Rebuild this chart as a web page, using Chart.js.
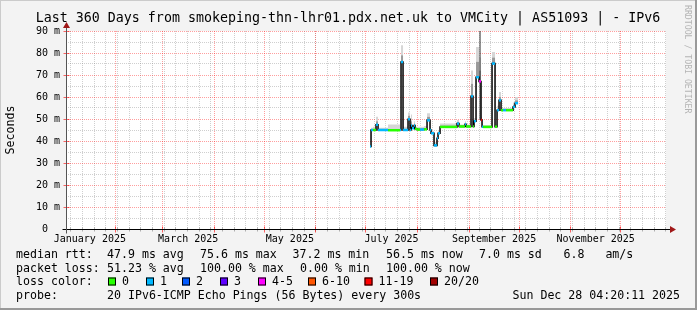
<!DOCTYPE html>
<html>
<head>
<meta charset="utf-8">
<script src="https://cdn.jsdelivr.net/npm/chart.js@4.4.1/dist/chart.umd.min.js"></script>
<style>
  html, body { margin: 0; padding: 0; background: #f3f3f3; }
  canvas { display: block; }
</style>
</head>
<body>
<canvas id="chart" width="697" height="310"></canvas>
<script>
// time axis in days since 1 Jan 2025; the graph covers 360 days up to Dec 28 04:20
const startDay = 1.18;
const spanDays = 360;

const monthStartDays = [31, 59, 90, 120, 151, 181, 212, 243, 273, 304, 334];
const monthLabels = ['January 2025', 'March 2025', 'May 2025', 'July 2025', 'September 2025', 'November 2025'];
const monthLabelDays = [15.5, 74.5, 135.5, 196.5, 258, 319];
const firstSunday = 4;

const yTicks = [0, 10, 20, 30, 40, 50, 60, 70, 80, 90];

// median rtt samples (ms), each one holds until the next sample starts
const sampleDays = [
  183.6, 184.2, 185.4, 187.2, 188.4, 194.4, 201.6, 202.2, 203.4, 206.4,
  207.6, 208.2, 208.8, 210.0, 210.6, 211.8, 213.6, 216.0, 217.8, 219.6,
  220.2, 222.0, 223.8, 224.4, 225.6, 235.8, 237.0, 240.6, 241.2, 244.2,
  245.4, 246.0, 247.2, 249.0, 250.2, 250.8, 251.4, 256.8, 258.6, 259.8,
  261.0, 262.2, 263.4, 265.2, 269.4, 270.6
];
const lastSampleEnd = 272.4;
const medianMs = [
  37.5, 45.0, 45.0, 47.4, 45.0, 44.9, 45.0, 75.9, 45.0, 49.9,
  45.0, 47.0, 45.8, 47.1, 45.5, 45.2, 45.2, 45.3, 49.4, 45.0,
  43.5, 38.0, 41.2, 43.5, 46.4, 47.9, 46.6, 47.6, 46.6, 60.3,
  46.6, 49.0, 69.0, 67.1, 49.6, 46.5, 46.4, 75.2, 46.5, 54.0,
  58.5, 54.0, 54.0, 54.0, 55.5, 57.2
];
// index into lossColors
const lossBucket = [
  1, 1, 0, 1, 1, 0, 1, 1, 1, 1,
  1, 1, 1, 1, 0, 0, 1, 0, 1, 1,
  1, 1, 1, 1, 0, 1, 0, 1, 0, 1,
  0, 1, 1, 4, 6, 1, 0, 1, 0, 1,
  1, 0, 1, 0, 1, 1
];
const smokeMidMs = [
  37.5, 45.3, 45.3, 49.0, 45.3, 45.5, 45.3, 79.0, 45.5, 51.5,
  45.5, 49.0, 46.0, 48.0, 45.8, 45.5, 45.5, 45.6, 51.0, 45.3,
  43.8, 38.5, 41.5, 43.8, 47.0, 48.5, 46.9, 48.3, 46.9, 66.0,
  46.9, 49.5, 76.0, 72.0, 50.0, 46.8, 46.7, 78.0, 46.8, 54.5,
  60.0, 54.3, 54.3, 54.3, 56.5, 58.5
];
const smokeHiMs = [
  38.0, 46.0, 46.5, 51.0, 46.0, 47.5, 46.0, 83.5, 46.5, 53.0,
  46.0, 52.0, 47.0, 49.0, 46.5, 46.5, 46.5, 46.8, 52.6, 46.0,
  44.5, 39.5, 42.0, 44.5, 48.0, 49.5, 47.5, 49.0, 47.5, 72.0,
  47.5, 50.5, 82.7, 78.0, 51.0, 47.5, 47.3, 80.5, 47.5, 56.0,
  62.3, 55.0, 55.0, 55.0, 57.5, 60.0
];
// single tall ping trace in early September
const spikeDays = [249.6, 249.6];
const spikeMs = [49.6, 92];

const lossColors = ['#26ff00', '#00b8ff', '#0059ff', '#5e00ff', '#ff00ff', '#ff5500', '#ff0000', '#a10000'];
const lossLabels = ['0', '1', '2', '3', '4-5', '6-10', '11-19', '20/20'];

const rttStats = [47.9, 75.6, 37.2, 56.5];
const rttSd = 7.0;
const rttAms = 6.8;
const lossStats = [51.23, 100, 0, 100];

const titleText = 'Last 360 Days from smokeping-thn-lhr01.pdx.net.uk to VMCity | AS51093 | - IPv6';
const probeText = '20 IPv6-ICMP Echo Pings (56 Bytes) every 300s';
const dateText = 'Sun Dec 28 04:20:11 2025';

const MONO = '"DejaVu Sans Mono", monospace';

function stepPoints(values) {
  const pts = [];
  for (let i = 0; i < sampleDays.length; i++) {
    const next = i + 1 < sampleDays.length ? sampleDays[i + 1] : lastSampleEnd;
    pts.push({ x: sampleDays[i], y: values[i] });
    pts.push({ x: next, y: values[i] });
  }
  return pts;
}

const medianPts = stepPoints(medianMs);

function crisp(v) {
  return Math.floor(v) + 0.5;
}

const backdrop = {
  id: 'backdrop',
  beforeDraw(chart) {
    const { ctx, width, height, chartArea: a } = chart;
    ctx.save();
    ctx.fillStyle = '#f3f3f3';
    ctx.fillRect(0, 0, width, height);
    ctx.fillStyle = '#cbcbcb';
    ctx.fillRect(0, 0, width, 1);
    ctx.fillRect(0, 0, 1, height);
    ctx.fillStyle = '#999999';
    ctx.fillRect(width - 2, 0, 2, height);
    ctx.fillRect(0, height - 2, width, 2);
    ctx.fillStyle = '#ffffff';
    ctx.fillRect(a.left, a.top, a.right - a.left, a.bottom - a.top);
    ctx.restore();
  },
  beforeDatasetsDraw(chart) {
    const { ctx, chartArea: a, scales: { x, y } } = chart;
    ctx.save();
    ctx.lineWidth = 1;
    ctx.setLineDash([1, 1]);
    // minor grid: weeks and 5 ms
    ctx.strokeStyle = 'rgba(128,128,128,0.38)';
    ctx.beginPath();
    for (let d = firstSunday; d < startDay + spanDays; d += 7) {
      if (d <= startDay) continue;
      const px = crisp(x.getPixelForValue(d));
      ctx.moveTo(px, a.top);
      ctx.lineTo(px, a.bottom);
    }
    for (let i = 0; i < yTicks.length - 1; i++) {
      const py = crisp(y.getPixelForValue((yTicks[i] + yTicks[i + 1]) / 2));
      ctx.moveTo(a.left, py);
      ctx.lineTo(a.right, py);
    }
    ctx.stroke();
    // major grid: months and 10 ms
    ctx.strokeStyle = 'rgba(255,0,0,0.38)';
    ctx.beginPath();
    monthStartDays.forEach(d => {
      const px = crisp(x.getPixelForValue(d));
      ctx.moveTo(px, a.top);
      ctx.lineTo(px, a.bottom);
    });
    yTicks.forEach(v => {
      if (v === 0) return;
      const py = crisp(y.getPixelForValue(v));
      ctx.moveTo(a.left, py);
      ctx.lineTo(a.right, py);
    });
    ctx.stroke();
    ctx.restore();
  },
  afterDatasetsDraw(chart) {
    const { ctx, width, chartArea: a, scales: { x, y } } = chart;
    ctx.save();
    const x0 = crisp(a.left);
    const y0 = crisp(a.bottom);

    // tick marks
    ctx.lineWidth = 1;
    ctx.strokeStyle = 'rgba(128,128,128,0.6)';
    ctx.beginPath();
    for (let d = firstSunday; d < startDay + spanDays; d += 7) {
      if (d <= startDay) continue;
      const px = crisp(x.getPixelForValue(d));
      ctx.moveTo(px, y0 - 2);
      ctx.lineTo(px, y0 + 2);
    }
    ctx.stroke();
    ctx.strokeStyle = 'rgba(255,0,0,0.6)';
    ctx.beginPath();
    monthStartDays.forEach(d => {
      const px = crisp(x.getPixelForValue(d));
      ctx.moveTo(px, y0 - 3);
      ctx.lineTo(px, y0 + 3);
    });
    yTicks.forEach(v => {
      const py = crisp(y.getPixelForValue(v));
      ctx.moveTo(x0 - 3, py);
      ctx.lineTo(x0 + 3, py);
    });
    ctx.stroke();

    // axes
    ctx.strokeStyle = '#000000';
    ctx.beginPath();
    ctx.moveTo(x0 - 4, y0);
    ctx.lineTo(a.right + 4, y0);
    ctx.stroke();
    ctx.strokeStyle = '#555555';
    ctx.beginPath();
    ctx.moveTo(x0, y0 + 4);
    ctx.lineTo(x0, a.top - 4);
    ctx.stroke();

    // arrows
    ctx.fillStyle = '#a01818';
    ctx.beginPath();
    ctx.moveTo(a.right + 10, y0);
    ctx.lineTo(a.right + 4, y0 - 3.5);
    ctx.lineTo(a.right + 4, y0 + 3.5);
    ctx.closePath();
    ctx.fill();
    ctx.beginPath();
    ctx.moveTo(x0, a.top - 9);
    ctx.lineTo(x0 - 3.5, a.top - 3);
    ctx.lineTo(x0 + 3.5, a.top - 3);
    ctx.closePath();
    ctx.fill();

    // axis labels
    ctx.fillStyle = '#000000';
    ctx.font = '10px ' + MONO;
    ctx.textBaseline = 'middle';
    ctx.textAlign = 'right';
    yTicks.forEach(v => {
      const label = v === 0 ? '0  ' : v + ' m';
      ctx.fillText(label, 60, y.getPixelForValue(v) + 0.5);
    });
    ctx.textAlign = 'center';
    monthLabels.forEach((label, i) => {
      ctx.fillText(label, x.getPixelForValue(monthLabelDays[i]), a.bottom + 10.5);
    });

    // unit label
    ctx.font = '11.6px ' + MONO;
    ctx.save();
    ctx.translate(11, (a.top + a.bottom) / 2);
    ctx.rotate(-Math.PI / 2);
    ctx.textAlign = 'center';
    ctx.fillText('Seconds', 0, 0);
    ctx.restore();

    // title
    ctx.font = '13.3px ' + MONO;
    ctx.textAlign = 'center';
    ctx.fillText(titleText, 348, 18.5);

    // watermark
    ctx.save();
    ctx.fillStyle = '#b4b4b4';
    ctx.font = '8.2px ' + MONO;
    ctx.translate(width - 10, 5);
    ctx.rotate(Math.PI / 2);
    ctx.textAlign = 'left';
    ctx.fillText('RRDTOOL / TOBI OETIKER', 0, 0);
    ctx.restore();

    // legend
    ctx.font = '11.6px ' + MONO;
    ctx.textAlign = 'left';
    const r1 = 255, r2 = 268.5, r3 = 282, r4 = 295.5;
    ctx.fillText('median rtt:', 16, r1);
    ctx.fillText(rttStats[0].toFixed(1) + ' ms avg', 107, r1);
    ctx.fillText(rttStats[1].toFixed(1) + ' ms max', 200, r1);
    ctx.fillText(rttStats[2].toFixed(1) + ' ms min', 292.5, r1);
    ctx.fillText(rttStats[3].toFixed(1) + ' ms now', 386, r1);
    ctx.fillText(rttSd.toFixed(1) + ' ms sd', 479, r1);
    ctx.fillText(rttAms.toFixed(1) + '   am/s', 563.5, r1);

    ctx.fillText('packet loss:', 16, r2);
    ctx.fillText(lossStats[0].toFixed(2) + ' % avg', 107, r2);
    ctx.fillText(lossStats[1].toFixed(2) + ' % max', 200, r2);
    ctx.fillText(lossStats[2].toFixed(2) + ' % min', 300, r2);
    ctx.fillText(lossStats[3].toFixed(2) + ' % now', 386, r2);

    ctx.fillText('loss color:', 16, r3);
    const boxX = [108, 146, 182, 220, 258, 308, 364.5, 430];
    lossColors.forEach((c, i) => {
      ctx.fillStyle = c;
      ctx.fillRect(boxX[i], r3 - 4.5, 8, 8);
      ctx.strokeStyle = '#000000';
      ctx.strokeRect(boxX[i] + 0.5, r3 - 4.5 + 0.5, 7, 7);
      ctx.fillStyle = '#000000';
      ctx.fillText(lossLabels[i], boxX[i] + 14, r3);
    });

    ctx.fillText('probe:', 16, r4);
    ctx.fillText(probeText, 107, r4);
    ctx.textAlign = 'right';
    ctx.fillText(dateText, 680, r4);
    ctx.restore();
  }
};

new Chart(document.getElementById('chart'), {
  type: 'line',
  data: {
    datasets: [
      {
        label: 'loss',
        data: medianPts,
        borderWidth: 2.5,
        borderCapStyle: 'butt',
        pointRadius: 0,
        fill: false,
        order: 0,
        segment: {
          borderColor: ctx => ctx.p0DataIndex % 2 === 0
            ? lossColors[lossBucket[ctx.p0DataIndex / 2]]
            : 'rgba(0,0,0,0)'
        }
      },
      {
        label: 'median',
        data: medianPts,
        borderColor: '#000000',
        borderWidth: 1.5,
        pointRadius: 0,
        fill: false,
        order: 1
      },
      {
        label: 'spike',
        data: spikeDays.map((d, i) => ({ x: d, y: spikeMs[i] })),
        borderColor: '#333333',
        borderWidth: 1,
        pointRadius: 0,
        fill: false,
        order: 2
      },
      {
        label: 'smoke mid',
        data: stepPoints(smokeMidMs),
        borderWidth: 0,
        borderColor: 'rgba(0,0,0,0)',
        backgroundColor: '#9a9a9a',
        pointRadius: 0,
        fill: 1,
        order: 3
      },
      {
        label: 'smoke high',
        data: stepPoints(smokeHiMs),
        borderWidth: 0,
        borderColor: 'rgba(0,0,0,0)',
        backgroundColor: '#d6d6d6',
        pointRadius: 0,
        fill: 3,
        order: 4
      }
    ]
  },
  options: {
    responsive: false,
    devicePixelRatio: 1,
    animation: false,
    layout: { padding: { left: 66, top: 31, right: 31, bottom: 81 } },
    plugins: {
      legend: { display: false },
      tooltip: { enabled: false },
      title: { display: false }
    },
    scales: {
      x: { type: 'linear', display: false, min: startDay, max: startDay + spanDays },
      y: { display: false, min: 0, max: 90 }
    }
  },
  plugins: [backdrop]
});
</script>
</body>
</html>
